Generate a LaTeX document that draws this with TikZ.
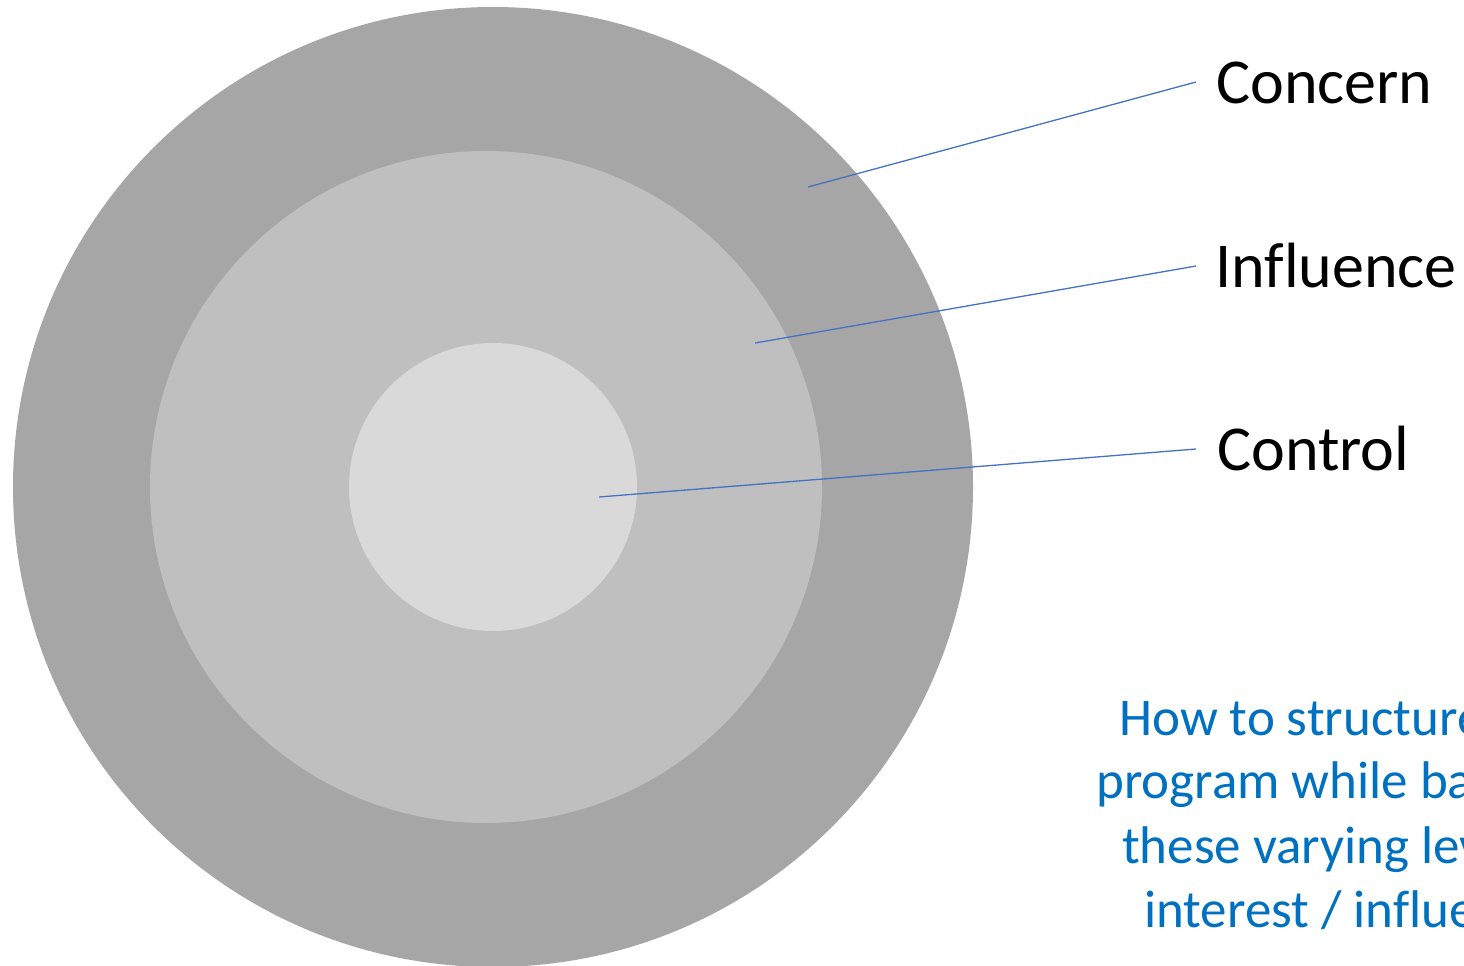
\documentclass[tikz,border=0pt]{standalone}
\usepackage{fontspec}
\setmainfont[Ligatures=NoCommon]{Carlito}
\definecolor{ringA}{HTML}{A6A6A6}
\definecolor{ringB}{HTML}{BFBFBF}
\definecolor{ringC}{HTML}{D9D9D9}
\definecolor{leader}{HTML}{4472C4}
\definecolor{note}{HTML}{0070C0}
\tikzset{
  lbl/.style={anchor=base west, inner sep=0pt, font=\fontsize{64}{77}\selectfont, text=black},
  notel/.style={anchor=base west, inner sep=0pt, font=\fontsize{53}{64}\selectfont, text=note},
  leadline/.style={draw=leader, line width=1.3pt},
}
\begin{document}
\begin{tikzpicture}[x=1pt,y=-1pt]
\useasboundingbox (0,0) rectangle (1464,966);
\clip (0,0) rectangle (1464,966);
\fill[white] (0,0) rectangle (1464,966);
\fill[ringA] (493,487) circle[radius=480];
\fill[ringB] (486,487) circle[radius=336];
\fill[ringC] (493,487) circle[radius=144];
\node[lbl] (concern) at (1216,103) {Concern};
\node[lbl] (influence) at (1215,287) {Influence};
\node[lbl] (control) at (1217,470) {Control};
\coordinate (pA) at (808,187);
\coordinate (pB) at (755,343);
\coordinate (pC) at (599,497);
\coordinate (eA) at (1196,82);
\coordinate (eB) at (1196,266);
\coordinate (eC) at (1196,449);
\draw[leadline] (pA) -- (eA);
\draw[leadline] (pB) -- (eB);
\draw[leadline] (pC) -- (eC);
\node[notel] (n1) at (1119,735) {How to structure a};
\node[notel] (n2) at (1096,798) {program while balancing};
\node[notel] (n3) at (1122,863) {these varying levels of};
\node[notel] (n4) at (1144,927) {interest / influence};
\end{tikzpicture}
\end{document}
